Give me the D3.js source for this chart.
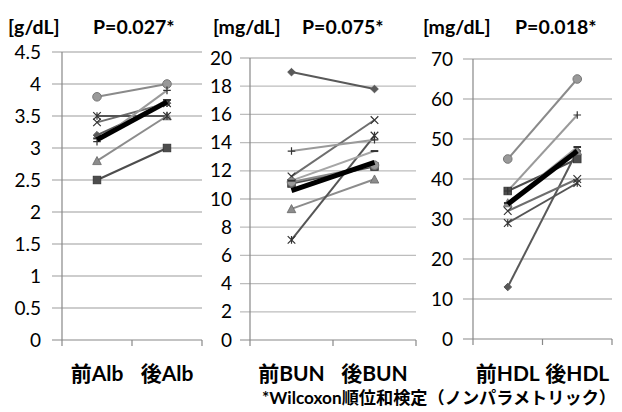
<!DOCTYPE html>
<html><head><meta charset="utf-8">
<script src="https://cdn.jsdelivr.net/npm/d3@7"></script>
<style>body{margin:0;background:#fff}svg{display:block}</style>
</head><body><svg id="c" width="622" height="412"></svg>
<script>
// ---- data ----
const markerTypes = ["diamond","square","triangle","x","asterisk","circle","plus","dash","mean"];
const albCats = ["前Alb","後Alb"];
const albPre  = [3.2, 2.5, 2.8, 3.4, 3.5, 3.8, 3.1, 3.15, 3.13];
const albPost = [3.7, 3.0, 3.5, 3.7, 3.5, 4.0, 3.9, 3.75, 3.72];
const albTicks = [0,0.5,1,1.5,2,2.5,3,3.5,4,4.5];
const bunCats = ["前BUN","後BUN"];
const bunPre  = [19.0, 11.1, 9.3, 11.6, 7.1, 11.2, 13.4, 11.3, 10.6];
const bunPost = [17.8, 12.3, 11.4, 15.6, 14.5, 12.4, 14.2, 13.4, 12.6];
const bunTicks = [0,2,4,6,8,10,12,14,16,18,20];
const hdlCats = ["前HDL","後HDL"];
const hdlPre  = [13, 37, 34, 32, 29, 45, 37, 34, 33.7];
const hdlPost = [47, 45, 47, 40, 39, 65, 56, 48, 47];
const hdlTicks = [0,10,20,30,40,50,60,70];
const units = ["[g/dL]","[mg/dL]","[mg/dL]"];
const pvals = ["P=0.027*","P=0.075*","P=0.018*"];
const note = "*Wilcoxon順位和検定（ノンパラメトリック）";

const colors = {diamond:"#595959",square:"#4d4d4d",triangle:"#8c8c8c",x:"#6e6e6e",asterisk:"#555555",circle:"#8a8a8a",plus:"#9a9a9a",dash:"#a6a6a6",mean:"#000000"};
const FONT = "Lato, 'Noto Sans CJK JP', sans-serif";

const panels = [
  {cats:albCats, pre:albPre, post:albPost, ticks:albTicks, max:4.5, x0:62, x1:202, yTop:52, yBot:340, unitX:8, pX:93, labR:41},
  {cats:bunCats, pre:bunPre, post:bunPost, ticks:bunTicks, max:20, x0:250, x1:416, yTop:58, yBot:340, unitX:213, pX:302, labR:232},
  {cats:hdlCats, pre:hdlPre, post:hdlPost, ticks:hdlTicks, max:70, x0:473, x1:612, yTop:59, yBot:339, unitX:423, pX:515, labR:453}
];

const svg = d3.select("#c");

function drawMarker(g, type, x, y, col){
  const s = 3.8;
  if(type==="diamond"){
    g.append("path").attr("d",`M${x},${y-s}L${x+s},${y}L${x},${y+s}L${x-s},${y}Z`).attr("fill",col).attr("stroke",col);
  } else if(type==="square"){
    g.append("rect").attr("x",x-s).attr("y",y-s).attr("width",2*s).attr("height",2*s).attr("fill",col).attr("stroke","#333").attr("stroke-width",0.8);
  } else if(type==="triangle"){
    g.append("path").attr("d",`M${x},${y-s-0.5}L${x+s+0.5},${y+s}L${x-s-0.5},${y+s}Z`).attr("fill",col).attr("stroke","#666").attr("stroke-width",0.8);
  } else if(type==="circle"){
    g.append("circle").attr("cx",x).attr("cy",y).attr("r",s+0.5).attr("fill","#999").attr("stroke","#777").attr("stroke-width",1);
  } else if(type==="x"){
    g.append("path").attr("d",`M${x-s},${y-s}L${x+s},${y+s}M${x+s},${y-s}L${x-s},${y+s}`).attr("stroke","#333").attr("stroke-width",1.2);
  } else if(type==="asterisk"){
    g.append("path").attr("d",`M${x-s},${y-s}L${x+s},${y+s}M${x+s},${y-s}L${x-s},${y+s}M${x},${y-s}L${x},${y+s}`).attr("stroke","#333").attr("stroke-width",1.2);
  } else if(type==="plus"){
    g.append("path").attr("d",`M${x-s},${y}L${x+s},${y}M${x},${y-s}L${x},${y+s}`).attr("stroke","#333").attr("stroke-width",1.2);
  } else if(type==="dash"){
    g.append("path").attr("d",`M${x-s},${y}L${x+s},${y}`).attr("stroke","#333").attr("stroke-width",2);
  }
}

panels.forEach((p,pi)=>{
  const y = d3.scaleLinear().domain([0,p.max]).range([p.yBot,p.yTop]);
  const x = d3.scaleBand().domain(p.cats).range([p.x0,p.x1]);
  const g = svg.append("g");
  g.selectAll("line.grid").data(p.ticks.filter(t=>t>0)).join("line")
    .attr("x1",p.x0-10).attr("x2",p.x1).attr("y1",d=>y(d)).attr("y2",d=>y(d))
    .attr("stroke","#bdbdbd").attr("stroke-width",1.3);
  g.append("line").attr("x1",p.x0).attr("x2",p.x0).attr("y1",p.yTop).attr("y2",p.yBot).attr("stroke","#888").attr("stroke-width",1.2);
  g.append("line").attr("x1",p.x0-10).attr("x2",p.x1).attr("y1",p.yBot).attr("y2",p.yBot).attr("stroke","#888").attr("stroke-width",1.2);
  [p.x0, (p.x0+p.x1)/2, p.x1].forEach(tx=>{
    g.append("line").attr("x1",tx).attr("x2",tx).attr("y1",p.yBot).attr("y2",p.yBot+6).attr("stroke","#888").attr("stroke-width",1.2);
  });
  g.selectAll("text.tl").data(p.ticks).join("text")
    .attr("x",p.labR).attr("y",d=>y(d)+6.5).attr("text-anchor","end")
    .attr("font-family",FONT).attr("font-size",19).attr("fill","#000").text(d=>String(d));
  g.selectAll("text.cat").data(p.cats).join("text")
    .attr("x",d=>x(d)+x.bandwidth()/2).attr("y",381).attr("text-anchor","middle")
    .attr("font-family",FONT).attr("font-size",21).attr("font-weight","bold").text(d=>d);
  g.append("text").attr("x",p.unitX).attr("y",34).attr("font-family",FONT).attr("font-size",19.5).attr("font-weight","bold").text(units[pi]);
  g.append("text").attr("x",p.pX).attr("y",34).attr("font-family",FONT).attr("font-size",19.5).attr("font-weight","bold").text(pvals[pi]);
  const cx0 = x(p.cats[0])+x.bandwidth()/2, cx1 = x(p.cats[1])+x.bandwidth()/2;
  markerTypes.forEach((m,i)=>{
    if(m==="mean") return;
    g.append("line").attr("x1",cx0).attr("x2",cx1).attr("y1",y(p.pre[i])).attr("y2",y(p.post[i]))
      .attr("stroke",colors[m]).attr("stroke-width",2);
  });
  markerTypes.forEach((m,i)=>{
    if(m==="mean") return;
    drawMarker(g,m,cx0,y(p.pre[i]),colors[m]);
    drawMarker(g,m,cx1,y(p.post[i]),colors[m]);
  });
  const mi = markerTypes.indexOf("mean");
  g.append("line").attr("x1",cx0).attr("x2",cx1).attr("y1",y(p.pre[mi])).attr("y2",y(p.post[mi]))
    .attr("stroke","#000").attr("stroke-width",5);
});

svg.append("text").attr("x",262).attr("y",404)
  .attr("textLength",354).attr("lengthAdjust","spacingAndGlyphs")
  .attr("font-family",FONT).attr("font-size",17).attr("font-weight","bold").text(note);
</script></body></html>
